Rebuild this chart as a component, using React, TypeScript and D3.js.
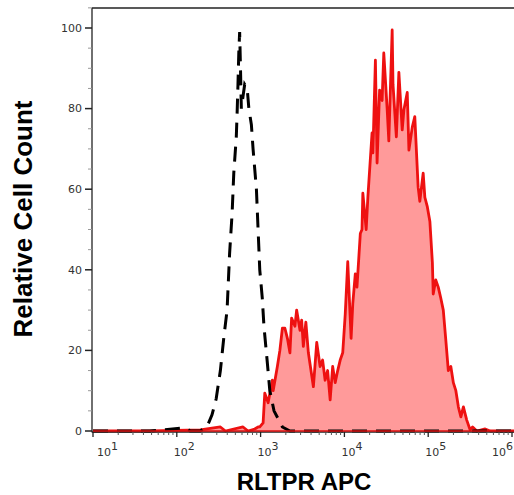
import React from "react";
import * as d3 from "d3";

// log10 of RLTPR APC intensity, and relative cell count (stained sample, red)
const stainedLog = [1.0, 1.68, 2.28, 2.52, 2.58, 2.79, 2.85, 2.93, 2.97, 2.99, 3.03, 3.05, 3.09, 3.14, 3.15, 3.2, 3.23, 3.26, 3.29, 3.32, 3.35, 3.37, 3.41, 3.43, 3.47, 3.49, 3.51, 3.54, 3.57, 3.63, 3.67, 3.71, 3.74, 3.77, 3.8, 3.83, 3.86, 3.89, 3.92, 3.95, 3.98, 4.01, 4.04, 4.08, 4.1, 4.13, 4.15, 4.19, 4.21, 4.22, 4.26, 4.28, 4.33, 4.34, 4.37, 4.39, 4.42, 4.45, 4.47, 4.51, 4.53, 4.57, 4.58, 4.62, 4.65, 4.69, 4.71, 4.75, 4.77, 4.81, 4.84, 4.88, 4.9, 4.94, 4.96, 4.99, 5.02, 5.05, 5.06, 5.09, 5.12, 5.15, 5.18, 5.21, 5.24, 5.27, 5.3, 5.33, 5.36, 5.39, 5.42, 5.46, 5.5, 5.53, 5.58, 5.68, 5.74, 6.03];
const stainedCount = [0, 0, 0.3, 1, 0, 1, 0, 0.5, 1, 1, 2, 9.4, 7, 12.6, 10, 16, 20, 25.5, 25.5, 23, 19.4, 28, 26, 30, 25, 27.5, 21, 27, 19.4, 11, 22, 16, 17.6, 12.6, 15, 7.7, 16, 12, 15, 17.6, 19.4, 29, 42, 23, 31.6, 39, 35.7, 49, 50, 59, 50, 58, 74, 69, 92, 66.5, 84.6, 82, 93.8, 80, 72, 99.5, 86, 73, 89, 74.7, 79.7, 84, 69.7, 75.4, 78, 60.5, 57, 64, 58, 55.6, 52, 41.7, 34, 37.5, 35.7, 33, 30, 22.6, 15, 16, 12, 10, 6, 3.5, 6, 2.7, 0.3, 1, 0, 0.5, 0, 0];

// isotype control (black dashed)
const isotypeLog = [1.0, 1.68, 2.1, 2.16, 2.28, 2.36, 2.42, 2.47, 2.52, 2.56, 2.6, 2.63, 2.66, 2.68, 2.71, 2.72, 2.73, 2.74, 2.75, 2.76, 2.77, 2.79, 2.81, 2.84, 2.86, 2.89, 2.91, 2.95, 2.97, 2.99, 3.02, 3.04, 3.08, 3.11, 3.16, 3.21, 3.26, 3.35, 6.03];
const isotypeCount = [0, 0, 0.8, 0, 0, 1, 4, 8, 15, 23, 30, 44, 54, 64, 73, 79, 86, 94, 99, 90, 80, 83, 86, 85, 80, 76, 70, 60, 50, 40, 33, 26, 17, 10, 5, 3, 1, 0, 0];

const yTicks = [0, 20, 40, 60, 80, 100];
const yMinor = [5, 10, 15, 25, 30, 35, 45, 50, 55, 65, 70, 75, 85, 90, 95, 105];
const xDecades = [1, 2, 3, 4, 5, 6];

const W = 514;
const H = 495;
const left = 93;
const right = 512;
const top = 8;
const bottom = 431;

export default function App() {
  const x = d3.scaleLog().domain([10, 1e6]).range([left, right]);
  const y = d3.scaleLinear().domain([0, 100]).range([bottom, 28]);

  const stained = stainedLog.map((e, i) => [Math.pow(10, e), stainedCount[i]] as [number, number]);
  const iso = isotypeLog.map((e, i) => [Math.pow(10, e), isotypeCount[i]] as [number, number]);

  const area = d3
    .area<[number, number]>()
    .x((d) => x(d[0]))
    .y0(y(0))
    .y1((d) => y(d[1]));
  const line = d3
    .line<[number, number]>()
    .x((d) => x(d[0]))
    .y((d) => y(d[1]));

  const minorX: number[] = [];
  for (let dec = 1; dec < 6; dec++) {
    for (let m = 2; m <= 9; m++) minorX.push(m * Math.pow(10, dec));
  }

  const font = "'DejaVu Sans', sans-serif";

  return (
    <svg
      width={W}
      height={H}
      style={{ position: "absolute", left: 0, top: 0, background: "#fff" }}
    >
      {/* data */}
      <path d={area(stained) || ""} fill="#ff9a9a" stroke="none" />
      <path d={line(stained) || ""} fill="none" stroke="#ee1111" strokeWidth={2.8} strokeLinejoin="round" />
      <path
        d={line(iso) || ""}
        fill="none"
        stroke="#000"
        strokeWidth={3}
        strokeDasharray="15,9"
      />

      {/* frame */}
      <line x1={left - 1} x2={W} y1={top} y2={top} stroke="#222" strokeWidth={1.3} />
      <line x1={left - 1} x2={left - 1} y1={top} y2={bottom + 1.5} stroke="#222" strokeWidth={1.3} />
      <line x1={left - 1} x2={W} y1={bottom + 1} y2={bottom + 1} stroke="#222" strokeWidth={1.3} />
      <line x1={left} x2={W} y1={bottom} y2={bottom} stroke="#dd1111" strokeWidth={1.5} />

      {/* y ticks */}
      {yMinor.map((v) => (
        <line key={"ym" + v} x1={left - 5} x2={left - 1} y1={y(v)} y2={y(v)} stroke="#999" strokeWidth={1} />
      ))}
      {yTicks.map((v) => (
        <g key={"y" + v}>
          <line x1={left - 8} x2={left - 1} y1={y(v)} y2={y(v)} stroke="#222" strokeWidth={1.5} />
          <text x={left - 11} y={y(v)} dy="0.35em" textAnchor="end" fontFamily={font} fontSize={11} fill="#333">
            {v}
          </text>
        </g>
      ))}

      {/* x ticks */}
      {minorX.map((v) => (
        <line key={"xm" + v} x1={x(v)} x2={x(v)} y1={bottom + 1} y2={bottom + 4} stroke="#555" strokeWidth={1} />
      ))}
      {xDecades.map((d) => {
        const px = x(Math.pow(10, d));
        const lx = Math.min(Math.max(px - 3, 97), 492);
        return (
          <g key={"x" + d}>
            <line x1={px} x2={px} y1={bottom + 1} y2={bottom + 6} stroke="#222" strokeWidth={1.3} />
            <text x={lx} y={456} fontFamily={font} fontSize={11} fill="#333">
              10
              <tspan dy={-6} fontSize={11}>
                {d}
              </tspan>
            </text>
          </g>
        );
      })}

      {/* axis titles */}
      <text x={304} y={490} textAnchor="middle" fontFamily="'Liberation Sans', Arial, sans-serif" fontWeight="bold" fontSize={24} fill="#000">
        RLTPR APC
      </text>
      <text
        transform="translate(32,219) rotate(-90)"
        textAnchor="middle"
        fontFamily="'Liberation Sans', Arial, sans-serif"
        fontWeight="bold"
        fontSize={26}
        fill="#000"
      >
        Relative Cell Count
      </text>
    </svg>
  );
}
